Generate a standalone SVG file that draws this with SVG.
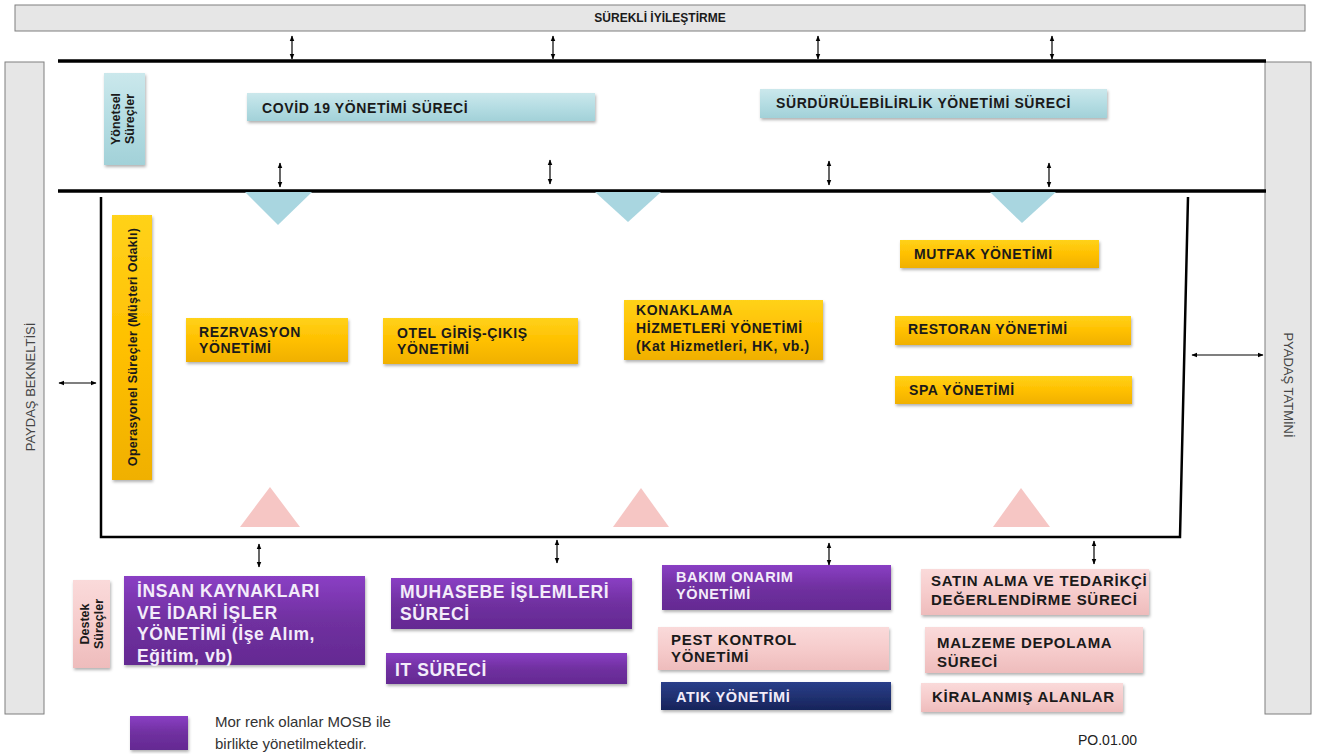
<svg xmlns="http://www.w3.org/2000/svg" width="1317" height="754" viewBox="0 0 1317 754">
<defs>
<marker id="ah" viewBox="0 0 10 10" refX="9" refY="5" markerWidth="5" markerHeight="5" orient="auto-start-reverse"><path d="M0,1 L10,5 L0,9 z" fill="#000"/></marker>
<linearGradient id="gy" x1="0" y1="0" x2="0" y2="1"><stop offset="0" stop-color="#ffd21a"/><stop offset="0.5" stop-color="#ffc000"/><stop offset="1" stop-color="#f0b000"/></linearGradient>
<linearGradient id="gp" x1="0" y1="0" x2="0" y2="1"><stop offset="0" stop-color="#8a3fc4"/><stop offset="0.5" stop-color="#7030a0"/><stop offset="1" stop-color="#642a92"/></linearGradient>
<linearGradient id="gk" x1="0" y1="0" x2="0" y2="1"><stop offset="0" stop-color="#fadada"/><stop offset="0.5" stop-color="#f6cccc"/><stop offset="1" stop-color="#eebcbc"/></linearGradient>
<linearGradient id="gt" x1="0" y1="0" x2="0" y2="1"><stop offset="0" stop-color="#cbe8ec"/><stop offset="0.5" stop-color="#b5dde3"/><stop offset="1" stop-color="#a2d1d8"/></linearGradient>
<linearGradient id="gn" x1="0" y1="0" x2="0" y2="1"><stop offset="0" stop-color="#2a3f8a"/><stop offset="1" stop-color="#17245a"/></linearGradient>
<filter id="sh" x="-10%" y="-20%" width="120%" height="150%"><feDropShadow dx="1" dy="2" stdDeviation="1.5" flood-color="#000" flood-opacity="0.3"/></filter>
</defs>
<style>
.gray{fill:#e6e6e6;stroke:#7f7f7f;stroke-width:1}
.thick{stroke:#000;stroke-width:3.5;fill:none}
.frame{stroke:#000;stroke-width:2.5;fill:none}
.conn{stroke:#000;stroke-width:1.2;fill:none;marker-start:url(#ah);marker-end:url(#ah)}
.y{fill:url(#gy);filter:url(#sh)}
.p{fill:url(#gp);filter:url(#sh)}
.k{fill:url(#gk);filter:url(#sh)}
.t{fill:url(#gt);filter:url(#sh)}
.n{fill:url(#gn);filter:url(#sh)}
text{font-family:"Liberation Sans",Arial,sans-serif}
.b{font-weight:bold;font-size:14px;letter-spacing:0.6px;fill:#1a1a1a}
.r{font-weight:bold;font-size:12.5px;fill:#1a1a1a}
.w{font-weight:bold;font-size:17.5px;letter-spacing:0.6px;fill:#f3ecfa}
.ws{font-weight:bold;font-size:14.5px;letter-spacing:0.6px;fill:#f3ecfa}
.pk{font-weight:bold;font-size:15px;letter-spacing:0.7px;fill:#1a1a1a}
.side{font-size:13px;fill:#444}
</style>
<g id="surekli"><rect class="gray" x="15" y="5" width="1290" height="26" fill="#dcdcdc"/><text x="660" y="22" text-anchor="middle" font-weight="bold" font-size="12px" fill="#1a1a1a">SÜREKLİ İYİLEŞTİRME</text></g>
<g id="paydas-beklentisi"><rect class="gray" x="5" y="62" width="39" height="652"/><text class="side" transform="translate(35,387) rotate(-90)" text-anchor="middle">PAYDAŞ  BEKNELTİSİ</text></g>
<g id="paydas-tatmini"><rect class="gray" x="1265" y="62" width="46" height="652"/><text class="side" transform="translate(1284,385) rotate(90)" text-anchor="middle">PYADAŞ  TATMİNİ</text></g>
<g id="frames">
<line class="thick" x1="58" y1="61" x2="1266" y2="61"/>
<line class="thick" x1="58" y1="191" x2="1266" y2="191"/>
<path class="frame" d="M101,197 L101,537 L1180,537 L1188,197"/>
</g>
<g id="yonetsel"><rect class="t" x="104" y="73" width="41" height="92"/><text class="r" font-size="12px" transform="translate(120,119) rotate(-90)" text-anchor="middle">Yönetsel</text><text class="r" font-size="12px" transform="translate(134,119) rotate(-90)" text-anchor="middle">Süreçler</text></g>
<g id="covid"><rect class="t" x="247" y="93" width="348" height="28"/><text class="b" x="262" y="113">COVİD 19 YÖNETİMİ SÜRECİ</text></g>
<g id="surdurulebilirlik"><rect class="t" x="760" y="89" width="347" height="29"/><text class="b" x="776" y="108">SÜRDÜRÜLEBİLİRLİK YÖNETİMİ SÜRECİ</text></g>
<g id="triangles">
<path d="M245,192 L312,192 L278,225 z" fill="#a9d6e0"/>
<path d="M595,192 L661,192 L628,222 z" fill="#a9d6e0"/>
<path d="M990,192 L1056,192 L1022,223 z" fill="#a9d6e0"/>
<path d="M240,527 L300,527 L270,487 z" fill="#f6c6c4"/>
<path d="M613,527 L669,527 L641,488 z" fill="#f6c6c4"/>
<path d="M993,527 L1050,527 L1021,488 z" fill="#f6c6c4"/>
</g>
<g id="operasyonel"><rect class="y" x="112" y="215" width="40" height="265"/><text class="r" font-size="12.5px" letter-spacing="0.3px" transform="translate(137,347) rotate(-90)" text-anchor="middle">Operasyonel  Süreçler (Müşteri Odaklı)</text></g>
<g id="rezervasyon"><rect class="y" x="186" y="318" width="162" height="44"/><text class="b" x="199" y="337">REZRVASYON</text><text class="b" x="199" y="353">YÖNETİMİ</text></g>
<g id="otel"><rect class="y" x="383" y="318" width="195" height="46"/><text class="b" x="397" y="338">OTEL GİRİŞ-ÇIKIŞ</text><text class="b" x="397" y="354">YÖNETİMİ</text></g>
<g id="konaklama"><rect class="y" x="624" y="300" width="199" height="60"/><text class="b" x="636" y="315">KONAKLAMA</text><text class="b" x="636" y="333">HİZMETLERİ YÖNETİMİ</text><text class="b" x="636" y="351" font-size="13px">(Kat Hizmetleri, HK, vb.)</text></g>
<g id="mutfak"><rect class="y" x="900" y="240" width="199" height="28"/><text class="b" x="914" y="259">MUTFAK YÖNETİMİ</text></g>
<g id="restoran"><rect class="y" x="895" y="316" width="236" height="29"/><text class="b" x="908" y="334">RESTORAN YÖNETİMİ</text></g>
<g id="spa"><rect class="y" x="895" y="376" width="237" height="28"/><text class="b" x="909" y="395">SPA YÖNETİMİ</text></g>
<g id="destek"><rect class="k" x="73" y="580" width="37" height="88"/><text class="r" font-size="12px" transform="translate(89,624) rotate(-90)" text-anchor="middle">Destek</text><text class="r" font-size="12px" transform="translate(103,624) rotate(-90)" text-anchor="middle">Süreçler</text></g>
<g id="insan"><rect class="p" x="124" y="576" width="241" height="89"/><text class="w" x="137" y="597">İNSAN KAYNAKLARI</text><text class="w" x="137" y="619">VE İDARİ İŞLER</text><text class="w" x="137" y="640">YÖNETİMİ (İşe Alım,</text><text class="w" x="137" y="662">Eğitim, vb)</text></g>
<g id="muhasebe"><rect class="p" x="391" y="578" width="241" height="51"/><text class="w" x="400" y="598">MUHASEBE İŞLEMLERİ</text><text class="w" x="400" y="620">SÜRECİ</text></g>
<g id="it"><rect class="p" x="386" y="653" width="241" height="31"/><text class="w" x="395" y="676">IT SÜRECİ</text></g>
<g id="bakim"><rect class="p" x="662" y="565" width="229" height="45"/><text class="ws" x="676" y="582">BAKIM ONARIM</text><text class="ws" x="676" y="599">YÖNETİMİ</text></g>
<g id="pest"><rect class="k" x="658" y="627" width="231" height="43"/><text class="pk" font-size="14px" letter-spacing="0.2px" x="671" y="645">PEST KONTROL</text><text class="pk" font-size="14px" letter-spacing="0.2px" x="671" y="662">YÖNETİMİ</text></g>
<g id="atik"><rect class="n" x="661" y="682" width="230" height="28"/><text class="ws" x="676" y="702">ATIK YÖNETİMİ</text></g>
<g id="satin"><rect class="k" x="921" y="569" width="228" height="46"/><text class="pk" x="931" y="586">SATIN ALMA VE TEDARİKÇİ</text><text class="pk" x="931" y="605">DEĞERLENDİRME SÜRECİ</text></g>
<g id="malzeme"><rect class="k" x="925" y="627" width="218" height="46"/><text class="pk" x="937" y="648">MALZEME  DEPOLAMA</text><text class="pk" x="937" y="667">SÜRECİ</text></g>
<g id="kiralanmis"><rect class="k" x="921" y="683" width="202" height="29"/><text class="pk" x="932" y="702">KİRALANMIŞ ALANLAR</text></g>
<g id="legend"><rect class="p" x="130" y="716" width="58" height="34"/><text x="215" y="727" font-size="15px" fill="#333" font-family="Carlito, 'Open Sans', sans-serif">Mor renk olanlar MOSB ile</text><text x="215" y="749" font-size="15px" fill="#333" font-family="Carlito, 'Open Sans', sans-serif">birlikte yönetilmektedir.</text></g>
<g id="code"><text x="1078" y="745" font-size="14px" fill="#222">PO.01.00</text></g>
<g id="connectors">
<line class="conn" x1="292" y1="36" x2="292" y2="59"/>
<line class="conn" x1="553" y1="36" x2="553" y2="59"/>
<line class="conn" x1="818" y1="36" x2="818" y2="59"/>
<line class="conn" x1="1052" y1="36" x2="1052" y2="59"/>
<line class="conn" x1="280" y1="163" x2="280" y2="187"/>
<line class="conn" x1="550" y1="160" x2="550" y2="184"/>
<line class="conn" x1="829" y1="161" x2="829" y2="185"/>
<line class="conn" x1="1049" y1="163" x2="1049" y2="187"/>
<line class="conn" x1="59" y1="383" x2="96" y2="383"/>
<line class="conn" x1="1192" y1="355" x2="1263" y2="355"/>
<line class="conn" x1="259" y1="544" x2="259" y2="567"/>
<line class="conn" x1="557" y1="540" x2="557" y2="563"/>
<line class="conn" x1="829" y1="543" x2="829" y2="565"/>
<line class="conn" x1="1094" y1="541" x2="1094" y2="564"/>
</g>
</svg>
